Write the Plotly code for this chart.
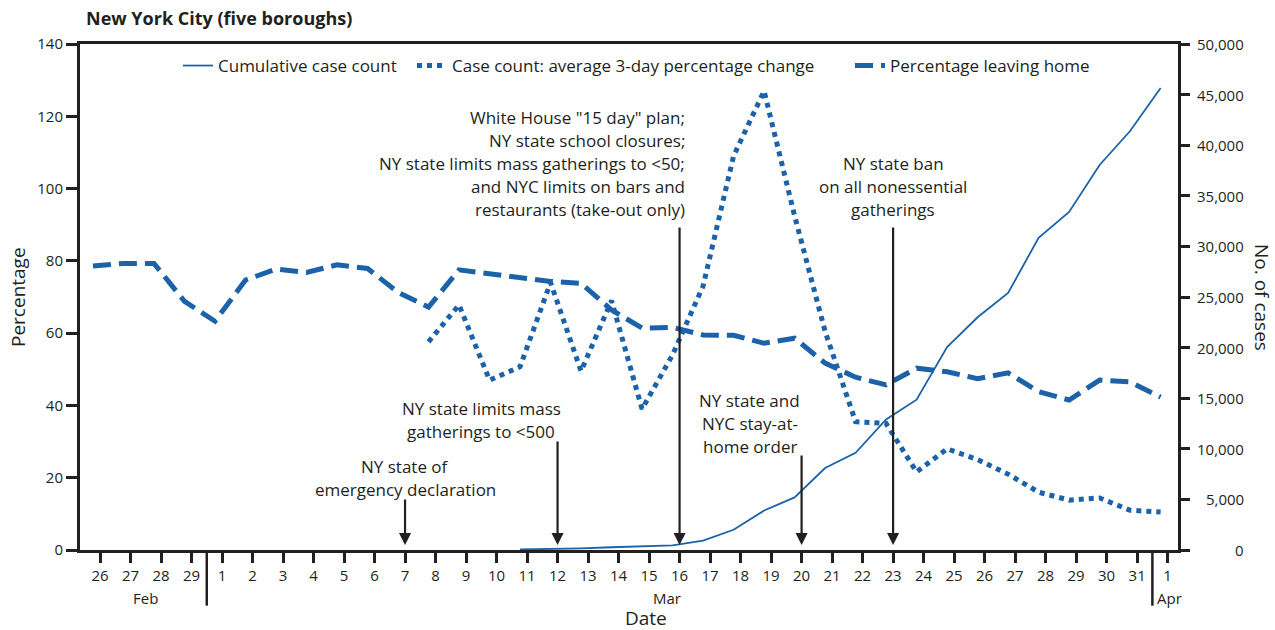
import plotly.graph_objects as go

# ---------------- data ----------------
DAY_LABELS = ["26", "27", "28", "29"] + [str(d) for d in range(1, 32)] + ["1"]
MONTH_LABELS = ["Feb", "Mar", "Apr"]

# Percentage leaving home, Feb 26 .. Apr 1
leaving_home = [78.6, 79.3, 79.3, 68.8, 63.3, 74.7, 77.7, 76.8, 78.9, 77.9,
                71.3, 67.2, 77.5, 76.4, 75.6, 74.3, 73.8, 66.4, 61.4, 61.6,
                59.5, 59.4, 57.2, 58.6, 51.7, 47.8, 45.7, 50.3, 49.3, 47.4,
                49.0, 43.8, 41.5, 47.0, 46.5, 42.3]

# Case count: average 3-day percentage change, Mar 8 .. Apr 1
pct_change = [None] * 11 + [57.6, 67.8, 47.0, 50.7, 74.0, 49.5, 69.0, 39.0, 54.0,
                            73.0, 109.0, 127.0, 92.5, 60.5, 35.5, 35.0, 21.6, 28.0,
                            25.0, 21.0, 16.0, 13.8, 14.4, 11.0, 10.5]

# Cumulative case count, Mar 11 .. Apr 1
cumulative = [None] * 14 + [50, 95, 155, 270, 330, 460, 920, 2000, 3900, 5200,
                            8100, 9600, 12900, 14850, 20050, 23000, 25400, 30850,
                            33400, 38050, 41400, 45650]

LEFT_TICKS = [0, 20, 40, 60, 80, 100, 120, 140]
RIGHT_TICKS = list(range(0, 50001, 5000))

# events: (day index, text lines, text anchor)
EVENTS = [
    (10, ["NY state of", "emergency declaration"], "center"),
    (15, ["NY state limits mass", "gatherings to <500"], "center"),
    (19, ['White House "15 day" plan;', "NY state school closures;",
          "NY state limits mass gatherings to <50;", "and NYC limits on bars and",
          "restaurants (take-out only)"], "right"),
    (23, ["NY state and", "NYC stay-at-", "home order"], "center"),
    (26, ["NY state ban", "on all nonessential", "gatherings"], "center"),
]

# ---------------- figure ----------------
x = list(range(len(DAY_LABELS)))
SHIFT = 0.23
BLUE = "#1b62a8"
INK = "#231f20"
FONT = "Open Sans"

fig = go.Figure()
fig.add_trace(go.Scatter(x=x, y=cumulative, name="Cumulative case count", yaxis="y2",
                         mode="lines", line=dict(color=BLUE, width=1.8), legend="legend"))
fig.add_trace(go.Scatter(x=x, y=pct_change, name="Case count: average 3-day percentage change",
                         mode="lines", line=dict(color=BLUE, width=5, dash="5px,5px"),
                         legend="legend2"))
fig.add_trace(go.Scatter(x=x, y=leaving_home, name="Percentage leaving home",
                         mode="lines", line=dict(color=BLUE, width=5, dash="18px,8px"),
                         legend="legend3"))

annotations = []
ev_cfg = {
    10: dict(text_x=10, first_py=466, arrow_top=498),
    15: dict(text_x=12.5, first_py=408, arrow_top=440),
    19: dict(text_x=19.25, first_py=117, arrow_top=226),
    23: dict(text_x=21.3, first_py=400, arrow_top=454),
    26: dict(text_x=26, first_py=163, arrow_top=226),
}
PX_PER_UNIT = 506 / 140.0
for day, lines, anchor in EVENTS:
    c = ev_cfg[day]
    for k, ln in enumerate(lines):
        py = c["first_py"] + 23 * k
        annotations.append(dict(
            x=c["text_x"] + SHIFT, y=(550 - py) / PX_PER_UNIT, xref="x", yref="y",
            text=ln, showarrow=False, xanchor=anchor, yanchor="middle",
            font=dict(family=FONT, size=17, color=INK)))
    annotations.append(dict(
        x=day + SHIFT, y=(550 - 545) / PX_PER_UNIT, xref="x", yref="y",
        ax=day + SHIFT, ay=(550 - c["arrow_top"]) / PX_PER_UNIT, axref="x", ayref="y",
        text="", showarrow=True, arrowhead=2, arrowsize=1.1, arrowwidth=2.2,
        arrowcolor=INK))

# right-axis tick labels, right aligned
for v in RIGHT_TICKS:
    annotations.append(dict(
        x=1 + (1246 - 1178) / 1098, y=v, xref="paper", yref="y2",
        text=f"{v:,}", showarrow=False, xanchor="right", yanchor="middle",
        font=dict(family=FONT, size=15, color=INK)))

# month labels and axis titles
annotations += [
    dict(x=1.5 + SHIFT, y=-0.095, xref="x", yref="paper", text=MONTH_LABELS[0],
         showarrow=False, xanchor="center", yanchor="middle",
         font=dict(family=FONT, size=15, color=INK)),
    dict(x=18.6 + SHIFT, y=-0.095, xref="x", yref="paper", text=MONTH_LABELS[1],
         showarrow=False, xanchor="center", yanchor="middle",
         font=dict(family=FONT, size=15, color=INK)),
    dict(x=34.6 + SHIFT, y=-0.095, xref="x", yref="paper", text=MONTH_LABELS[2],
         showarrow=False, xanchor="left", yanchor="middle",
         font=dict(family=FONT, size=15, color=INK)),
    dict(x=17.9 + SHIFT, y=-0.134, xref="x", yref="paper", text="Date",
         showarrow=False, xanchor="center", yanchor="middle",
         font=dict(family=FONT, size=19, color=INK)),
    dict(x=1 + (1262 - 1178) / 1098, y=0.5, xref="paper", yref="paper",
         text="No. of cases", textangle=90, showarrow=False,
         xanchor="center", yanchor="middle",
         font=dict(family=FONT, size=19, color=INK)),
    dict(x=-(80 - 18) / 1098, y=0.5, xref="paper", yref="paper",
         text="Percentage", textangle=-90, showarrow=False,
         xanchor="center", yanchor="middle",
         font=dict(family=FONT, size=19, color=INK)),
]

shapes = [
    dict(type="line", xref="x", yref="paper", x0=3.5 + SHIFT, x1=3.5 + SHIFT,
         y0=0, y1=-0.11, line=dict(color=INK, width=2.5)),
    dict(type="line", xref="x", yref="paper", x0=34.5 + SHIFT, x1=34.5 + SHIFT,
         y0=0, y1=-0.11, line=dict(color=INK, width=2.5)),
]

legend_common = dict(orientation="h", xanchor="left", yanchor="middle",
                     y=1 - (66 - 44) / 506, bgcolor="rgba(0,0,0,0)",
                     font=dict(family=FONT, size=17, color=INK))

fig.update_layout(
    width=1275, height=630,
    margin=dict(l=80, r=97, t=44, b=80),
    paper_bgcolor="white", plot_bgcolor="white",
    font=dict(family=FONT, size=15, color=INK),
    title=dict(text="<b>New York City (five boroughs)</b>", x=86 / 1275, xanchor="left",
               y=1 - 19 / 630, yanchor="middle",
               font=dict(family=FONT, size=18, color=INK)),
    showlegend=True,
    legend=dict(x=(178 - 80) / 1098, **legend_common),
    legend2=dict(x=(412 - 80) / 1098, **legend_common),
    legend3=dict(x=(850 - 80) / 1098, **legend_common),
    xaxis=dict(range=[-0.426, 35.57], tickmode="array",
               tickvals=[i + SHIFT for i in x], ticktext=DAY_LABELS,
               showline=True, linecolor=INK, linewidth=3, mirror=True,
               ticks="outside", ticklen=10, tickwidth=2.5, tickcolor=INK,
               showgrid=False, zeroline=False,
               tickfont=dict(family=FONT, size=15, color=INK)),
    yaxis=dict(range=[0, 140], tickmode="array", tickvals=LEFT_TICKS,
               showline=True, linecolor=INK, linewidth=3,
               ticks="outside", ticklen=11, tickwidth=2.5, tickcolor=INK,
               showgrid=False, zeroline=False,
               tickfont=dict(family=FONT, size=15, color=INK)),
    yaxis2=dict(range=[0, 50000], overlaying="y", side="right", tickmode="array",
                tickvals=RIGHT_TICKS, showticklabels=False,
                showline=True, linecolor=INK, linewidth=3,
                ticks="outside", ticklen=9, tickwidth=2.5, tickcolor=INK,
                showgrid=False, zeroline=False),
    annotations=annotations,
    shapes=shapes,
)

fig.write_html("out.html", config={"displayModeBar": False},
               post_script="document.body.style.margin='0';")
